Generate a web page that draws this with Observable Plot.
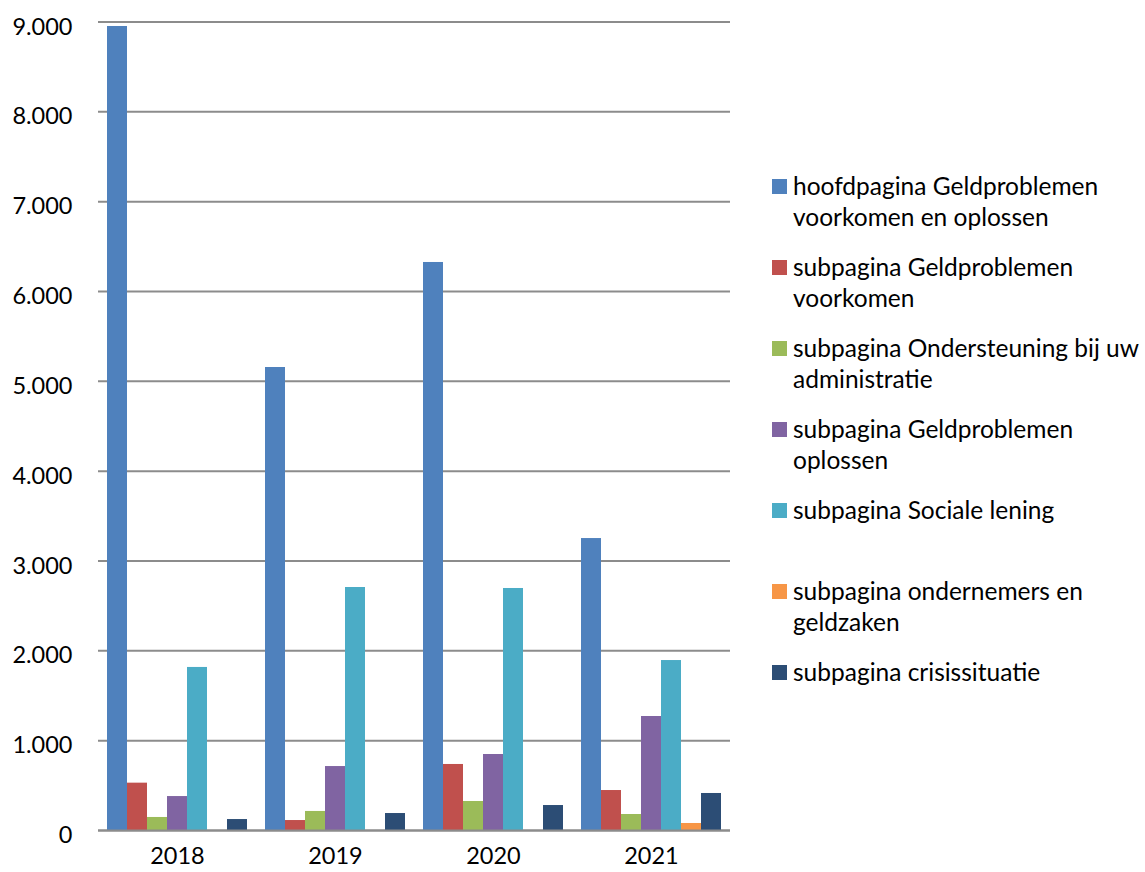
<!DOCTYPE html>
<html>
<head>
<meta charset="utf-8">
<script src="https://cdn.jsdelivr.net/npm/d3@7"></script>
<script src="https://cdn.jsdelivr.net/npm/@observablehq/plot@0.6"></script>
<style>
  html, body { margin: 0; padding: 0; background: #fff; }
  #wrap { position: relative; width: 1145px; height: 872px; overflow: hidden; font-family: Lato, "Open Sans", sans-serif; }
  #chart { position: absolute; left: 0; top: 0; }
  #legend { position: absolute; left: 772px; top: 170px; font-size: 24.5px; line-height: 31px; color: #000; }
  .item { height: 81px; display: flex; align-items: flex-start; }
  .sw { width: 15px; height: 15px; margin-top: 9px; margin-right: 6px; flex: none; }
  .lab { white-space: pre; }
</style>
</head>
<body>
<div id="wrap">
  <div id="chart"></div>
  <div id="legend"></div>
</div>
<script>
const years = ["2018", "2019", "2020", "2021"];
const series = [
  "hoofdpagina Geldproblemen voorkomen en oplossen",
  "subpagina Geldproblemen voorkomen",
  "subpagina Ondersteuning bij uw administratie",
  "subpagina Geldproblemen oplossen",
  "subpagina Sociale lening",
  "subpagina ondernemers en geldzaken",
  "subpagina crisissituatie"
];
const legendLabels = [
  "hoofdpagina Geldproblemen\nvoorkomen en oplossen",
  "subpagina Geldproblemen\nvoorkomen",
  "subpagina Ondersteuning bij uw\nadministratie",
  "subpagina Geldproblemen\noplossen",
  "subpagina Sociale lening",
  "subpagina ondernemers en\ngeldzaken",
  "subpagina crisissituatie"
];
const colors = ["#4f81bd", "#c0504d", "#9bbb59", "#8064a2", "#4bacc6", "#f79646", "#2c4d75"];

const hoofdpagina   = [8950, 5154, 6323, 3250];
const geldVoorkomen = [527, 111, 735, 445];
const ondersteuning = [145, 212, 323, 178];
const geldOplossen  = [378, 712, 846, 1269];
const socialeLening = [1815, 2705, 2694, 1892];
const ondernemers   = [0, 0, 0, 78];
const crisis        = [122, 189, 278, 412];
const yTicks = [0, 1000, 2000, 3000, 4000, 5000, 6000, 7000, 8000, 9000];

const seriesValues = [hoofdpagina, geldVoorkomen, ondersteuning, geldOplossen, socialeLening, ondernemers, crisis];
const data = [];
years.forEach((year, i) => {
  series.forEach((s, j) => data.push({year, series: s, value: seriesValues[j][i]}));
});

const fmt = d => d3.format(",")(d).replace(/,/g, ".");

const chart = Plot.plot({
  width: 740,
  height: 872,
  marginTop: 21.5,
  marginBottom: 42,
  marginLeft: 97,
  marginRight: 10,
  style: {fontFamily: "Lato, 'Open Sans', sans-serif", fontSize: "23.5px", color: "#000", background: "transparent"},
  fx: {domain: years, padding: 0, label: null, axis: "bottom", tickSize: 0, tickPadding: 17},
  x: {domain: series, paddingInner: 0, paddingOuter: 0.33, axis: null},
  y: {domain: [0, 9000], axis: null},
  color: {domain: series, range: colors},
  marks: [
    Plot.gridY(yTicks, {stroke: "#8c8c8c", strokeWidth: 2, strokeOpacity: 1}),
    Plot.barY(data, {fx: "year", x: "series", y: "value", fill: "series"}),
    Plot.ruleY([0], {stroke: "#8c8c8c", strokeWidth: 2}),
    Plot.axisY(yTicks, {tickSize: 0, tickPadding: 26, tickFormat: fmt, dy: 5, fontSize: 23.5, label: null})
  ]
});
document.getElementById("chart").appendChild(chart);

const legend = document.getElementById("legend");
series.forEach((s, i) => {
  const item = document.createElement("div");
  item.className = "item";
  const sw = document.createElement("div");
  sw.className = "sw";
  sw.style.background = colors[i];
  const lab = document.createElement("div");
  lab.className = "lab";
  lab.textContent = legendLabels[i];
  item.appendChild(sw);
  item.appendChild(lab);
  legend.appendChild(item);
});
</script>
</body>
</html>
